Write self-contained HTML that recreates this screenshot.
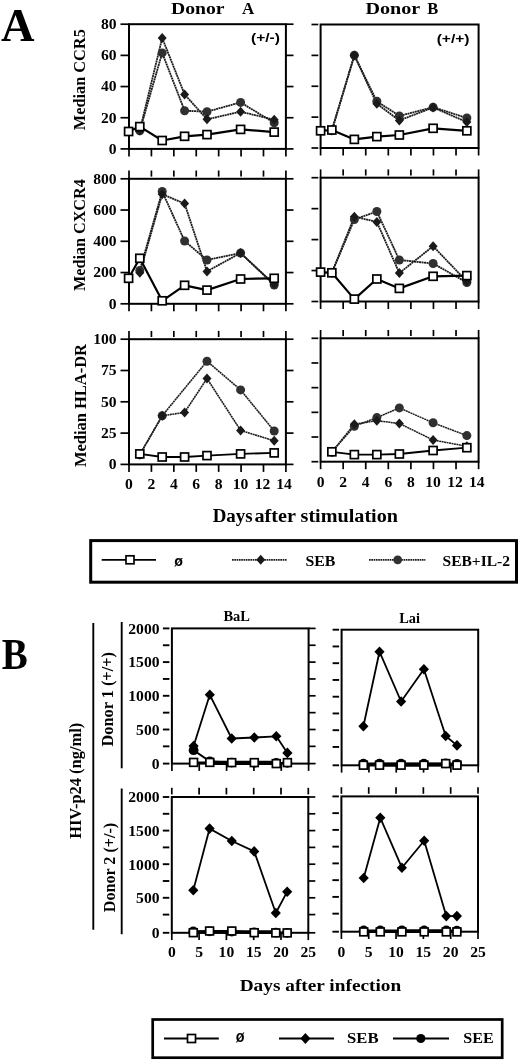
<!DOCTYPE html>
<html lang="en">
<head>
<meta charset="utf-8">
<title>Figure</title>
<style>
html,body{margin:0;padding:0;background:#fff;}
body{width:520px;height:1061px;overflow:hidden;}
svg{display:block;}
text{font-kerning:normal;}
</style>
</head>
<body>
<svg width="520" height="1061" viewBox="0 0 520 1061">
<rect x="0" y="0" width="520" height="1061" fill="#fff"/>
<text x="1.00" y="41.30" font-size="46" text-anchor="start" font-family='"Liberation Serif", serif' font-weight="bold" fill="#000" textLength="33.50" lengthAdjust="spacingAndGlyphs">A</text>
<text y="14.10" font-size="16.5" font-family='"Liberation Serif", serif' font-weight="bold" fill="#000"><tspan x="171.00" textLength="53.20" lengthAdjust="spacingAndGlyphs">Donor</tspan> <tspan x="242.00" textLength="12.30" lengthAdjust="spacingAndGlyphs">A</tspan></text>
<text y="14.20" font-size="16.5" font-family='"Liberation Serif", serif' font-weight="bold" fill="#000"><tspan x="365.40" textLength="54.40" lengthAdjust="spacingAndGlyphs">Donor</tspan> <tspan x="427.30" textLength="11.00" lengthAdjust="spacingAndGlyphs">B</tspan></text>
<rect x="129.0" y="24.2" width="156.90" height="124.70" fill="none" stroke="#000" stroke-width="2.0"/>
<line x1="120.50" y1="24.20" x2="129.00" y2="24.20" stroke="#000" stroke-width="1.7" />
<line x1="285.90" y1="24.20" x2="293.50" y2="24.20" stroke="#000" stroke-width="1.7" />
<text x="116.60" y="29.00" font-size="14.5" text-anchor="end" font-family='"Liberation Serif", serif' font-weight="bold" fill="#000" textLength="15.60" lengthAdjust="spacingAndGlyphs">80</text>
<line x1="120.50" y1="55.38" x2="129.00" y2="55.38" stroke="#000" stroke-width="1.7" />
<line x1="285.90" y1="55.38" x2="293.50" y2="55.38" stroke="#000" stroke-width="1.7" />
<text x="116.60" y="60.17" font-size="14.5" text-anchor="end" font-family='"Liberation Serif", serif' font-weight="bold" fill="#000" textLength="15.60" lengthAdjust="spacingAndGlyphs">60</text>
<line x1="120.50" y1="86.55" x2="129.00" y2="86.55" stroke="#000" stroke-width="1.7" />
<line x1="285.90" y1="86.55" x2="293.50" y2="86.55" stroke="#000" stroke-width="1.7" />
<text x="116.60" y="91.35" font-size="14.5" text-anchor="end" font-family='"Liberation Serif", serif' font-weight="bold" fill="#000" textLength="15.60" lengthAdjust="spacingAndGlyphs">40</text>
<line x1="120.50" y1="117.73" x2="129.00" y2="117.73" stroke="#000" stroke-width="1.7" />
<line x1="285.90" y1="117.73" x2="293.50" y2="117.73" stroke="#000" stroke-width="1.7" />
<text x="116.60" y="122.53" font-size="14.5" text-anchor="end" font-family='"Liberation Serif", serif' font-weight="bold" fill="#000" textLength="15.60" lengthAdjust="spacingAndGlyphs">20</text>
<line x1="120.50" y1="148.90" x2="129.00" y2="148.90" stroke="#000" stroke-width="1.7" />
<line x1="285.90" y1="148.90" x2="293.50" y2="148.90" stroke="#000" stroke-width="1.7" />
<text x="116.60" y="153.70" font-size="14.5" text-anchor="end" font-family='"Liberation Serif", serif' font-weight="bold" fill="#000" textLength="7.80" lengthAdjust="spacingAndGlyphs">0</text>
<line x1="129.00" y1="148.90" x2="129.00" y2="156.40" stroke="#000" stroke-width="1.7" />
<line x1="151.41" y1="148.90" x2="151.41" y2="156.40" stroke="#000" stroke-width="1.7" />
<line x1="173.83" y1="148.90" x2="173.83" y2="156.40" stroke="#000" stroke-width="1.7" />
<line x1="196.24" y1="148.90" x2="196.24" y2="156.40" stroke="#000" stroke-width="1.7" />
<line x1="218.66" y1="148.90" x2="218.66" y2="156.40" stroke="#000" stroke-width="1.7" />
<line x1="241.07" y1="148.90" x2="241.07" y2="156.40" stroke="#000" stroke-width="1.7" />
<line x1="263.49" y1="148.90" x2="263.49" y2="156.40" stroke="#000" stroke-width="1.7" />
<line x1="285.90" y1="148.90" x2="285.90" y2="156.40" stroke="#000" stroke-width="1.7" />
<rect x="320.6" y="24.5" width="158.00" height="123.50" fill="none" stroke="#000" stroke-width="2.0"/>
<line x1="311.50" y1="24.50" x2="318.30" y2="24.50" stroke="#000" stroke-width="1.7" />
<line x1="311.50" y1="55.38" x2="318.30" y2="55.38" stroke="#000" stroke-width="1.7" />
<line x1="311.50" y1="86.25" x2="318.30" y2="86.25" stroke="#000" stroke-width="1.7" />
<line x1="311.50" y1="117.12" x2="318.30" y2="117.12" stroke="#000" stroke-width="1.7" />
<line x1="311.50" y1="148.00" x2="318.30" y2="148.00" stroke="#000" stroke-width="1.7" />
<line x1="320.60" y1="148.00" x2="320.60" y2="155.50" stroke="#000" stroke-width="1.7" />
<line x1="343.17" y1="148.00" x2="343.17" y2="155.50" stroke="#000" stroke-width="1.7" />
<line x1="365.74" y1="148.00" x2="365.74" y2="155.50" stroke="#000" stroke-width="1.7" />
<line x1="388.31" y1="148.00" x2="388.31" y2="155.50" stroke="#000" stroke-width="1.7" />
<line x1="410.89" y1="148.00" x2="410.89" y2="155.50" stroke="#000" stroke-width="1.7" />
<line x1="433.46" y1="148.00" x2="433.46" y2="155.50" stroke="#000" stroke-width="1.7" />
<line x1="456.03" y1="148.00" x2="456.03" y2="155.50" stroke="#000" stroke-width="1.7" />
<line x1="478.60" y1="148.00" x2="478.60" y2="155.50" stroke="#000" stroke-width="1.7" />
<rect x="129.0" y="178.8" width="156.90" height="125.00" fill="none" stroke="#000" stroke-width="2.0"/>
<line x1="120.50" y1="178.80" x2="129.00" y2="178.80" stroke="#000" stroke-width="1.7" />
<line x1="285.90" y1="178.80" x2="293.50" y2="178.80" stroke="#000" stroke-width="1.7" />
<text x="116.60" y="183.60" font-size="14.5" text-anchor="end" font-family='"Liberation Serif", serif' font-weight="bold" fill="#000" textLength="23.40" lengthAdjust="spacingAndGlyphs">800</text>
<line x1="120.50" y1="210.05" x2="129.00" y2="210.05" stroke="#000" stroke-width="1.7" />
<line x1="285.90" y1="210.05" x2="293.50" y2="210.05" stroke="#000" stroke-width="1.7" />
<text x="116.60" y="214.85" font-size="14.5" text-anchor="end" font-family='"Liberation Serif", serif' font-weight="bold" fill="#000" textLength="23.40" lengthAdjust="spacingAndGlyphs">600</text>
<line x1="120.50" y1="241.30" x2="129.00" y2="241.30" stroke="#000" stroke-width="1.7" />
<line x1="285.90" y1="241.30" x2="293.50" y2="241.30" stroke="#000" stroke-width="1.7" />
<text x="116.60" y="246.10" font-size="14.5" text-anchor="end" font-family='"Liberation Serif", serif' font-weight="bold" fill="#000" textLength="23.40" lengthAdjust="spacingAndGlyphs">400</text>
<line x1="120.50" y1="272.55" x2="129.00" y2="272.55" stroke="#000" stroke-width="1.7" />
<line x1="285.90" y1="272.55" x2="293.50" y2="272.55" stroke="#000" stroke-width="1.7" />
<text x="116.60" y="277.35" font-size="14.5" text-anchor="end" font-family='"Liberation Serif", serif' font-weight="bold" fill="#000" textLength="23.40" lengthAdjust="spacingAndGlyphs">200</text>
<line x1="120.50" y1="303.80" x2="129.00" y2="303.80" stroke="#000" stroke-width="1.7" />
<line x1="285.90" y1="303.80" x2="293.50" y2="303.80" stroke="#000" stroke-width="1.7" />
<text x="116.60" y="308.60" font-size="14.5" text-anchor="end" font-family='"Liberation Serif", serif' font-weight="bold" fill="#000" textLength="7.80" lengthAdjust="spacingAndGlyphs">0</text>
<line x1="129.00" y1="303.80" x2="129.00" y2="311.30" stroke="#000" stroke-width="1.7" />
<line x1="151.41" y1="303.80" x2="151.41" y2="311.30" stroke="#000" stroke-width="1.7" />
<line x1="173.83" y1="303.80" x2="173.83" y2="311.30" stroke="#000" stroke-width="1.7" />
<line x1="196.24" y1="303.80" x2="196.24" y2="311.30" stroke="#000" stroke-width="1.7" />
<line x1="218.66" y1="303.80" x2="218.66" y2="311.30" stroke="#000" stroke-width="1.7" />
<line x1="241.07" y1="303.80" x2="241.07" y2="311.30" stroke="#000" stroke-width="1.7" />
<line x1="263.49" y1="303.80" x2="263.49" y2="311.30" stroke="#000" stroke-width="1.7" />
<line x1="285.90" y1="303.80" x2="285.90" y2="311.30" stroke="#000" stroke-width="1.7" />
<line x1="129.00" y1="170.50" x2="129.00" y2="178.80" stroke="#000" stroke-width="1.7" />
<line x1="151.41" y1="170.50" x2="151.41" y2="176.60" stroke="#000" stroke-width="1.7" />
<line x1="173.83" y1="170.50" x2="173.83" y2="176.60" stroke="#000" stroke-width="1.7" />
<line x1="196.24" y1="170.50" x2="196.24" y2="176.60" stroke="#000" stroke-width="1.7" />
<line x1="218.66" y1="170.50" x2="218.66" y2="176.60" stroke="#000" stroke-width="1.7" />
<line x1="241.07" y1="170.50" x2="241.07" y2="176.60" stroke="#000" stroke-width="1.7" />
<line x1="263.49" y1="170.50" x2="263.49" y2="176.60" stroke="#000" stroke-width="1.7" />
<line x1="285.90" y1="170.50" x2="285.90" y2="178.80" stroke="#000" stroke-width="1.7" />
<rect x="320.6" y="177.7" width="158.00" height="123.80" fill="none" stroke="#000" stroke-width="2.0"/>
<line x1="311.50" y1="177.70" x2="318.30" y2="177.70" stroke="#000" stroke-width="1.7" />
<line x1="311.50" y1="208.65" x2="318.30" y2="208.65" stroke="#000" stroke-width="1.7" />
<line x1="311.50" y1="239.60" x2="318.30" y2="239.60" stroke="#000" stroke-width="1.7" />
<line x1="311.50" y1="270.55" x2="318.30" y2="270.55" stroke="#000" stroke-width="1.7" />
<line x1="311.50" y1="301.50" x2="318.30" y2="301.50" stroke="#000" stroke-width="1.7" />
<line x1="320.60" y1="301.50" x2="320.60" y2="309.00" stroke="#000" stroke-width="1.7" />
<line x1="343.17" y1="301.50" x2="343.17" y2="309.00" stroke="#000" stroke-width="1.7" />
<line x1="365.74" y1="301.50" x2="365.74" y2="309.00" stroke="#000" stroke-width="1.7" />
<line x1="388.31" y1="301.50" x2="388.31" y2="309.00" stroke="#000" stroke-width="1.7" />
<line x1="410.89" y1="301.50" x2="410.89" y2="309.00" stroke="#000" stroke-width="1.7" />
<line x1="433.46" y1="301.50" x2="433.46" y2="309.00" stroke="#000" stroke-width="1.7" />
<line x1="456.03" y1="301.50" x2="456.03" y2="309.00" stroke="#000" stroke-width="1.7" />
<line x1="478.60" y1="301.50" x2="478.60" y2="309.00" stroke="#000" stroke-width="1.7" />
<line x1="320.60" y1="169.40" x2="320.60" y2="177.70" stroke="#000" stroke-width="1.7" />
<line x1="343.17" y1="169.40" x2="343.17" y2="175.50" stroke="#000" stroke-width="1.7" />
<line x1="365.74" y1="169.40" x2="365.74" y2="175.50" stroke="#000" stroke-width="1.7" />
<line x1="388.31" y1="169.40" x2="388.31" y2="175.50" stroke="#000" stroke-width="1.7" />
<line x1="410.89" y1="169.40" x2="410.89" y2="175.50" stroke="#000" stroke-width="1.7" />
<line x1="433.46" y1="169.40" x2="433.46" y2="175.50" stroke="#000" stroke-width="1.7" />
<line x1="456.03" y1="169.40" x2="456.03" y2="175.50" stroke="#000" stroke-width="1.7" />
<line x1="478.60" y1="169.40" x2="478.60" y2="177.70" stroke="#000" stroke-width="1.7" />
<rect x="129.0" y="339.2" width="156.90" height="125.20" fill="none" stroke="#000" stroke-width="2.0"/>
<line x1="120.50" y1="339.20" x2="129.00" y2="339.20" stroke="#000" stroke-width="1.7" />
<line x1="285.90" y1="339.20" x2="293.50" y2="339.20" stroke="#000" stroke-width="1.7" />
<text x="116.60" y="344.00" font-size="14.5" text-anchor="end" font-family='"Liberation Serif", serif' font-weight="bold" fill="#000" textLength="23.40" lengthAdjust="spacingAndGlyphs">100</text>
<line x1="120.50" y1="370.50" x2="129.00" y2="370.50" stroke="#000" stroke-width="1.7" />
<line x1="285.90" y1="370.50" x2="293.50" y2="370.50" stroke="#000" stroke-width="1.7" />
<text x="116.60" y="375.30" font-size="14.5" text-anchor="end" font-family='"Liberation Serif", serif' font-weight="bold" fill="#000" textLength="15.60" lengthAdjust="spacingAndGlyphs">75</text>
<line x1="120.50" y1="401.80" x2="129.00" y2="401.80" stroke="#000" stroke-width="1.7" />
<line x1="285.90" y1="401.80" x2="293.50" y2="401.80" stroke="#000" stroke-width="1.7" />
<text x="116.60" y="406.60" font-size="14.5" text-anchor="end" font-family='"Liberation Serif", serif' font-weight="bold" fill="#000" textLength="15.60" lengthAdjust="spacingAndGlyphs">50</text>
<line x1="120.50" y1="433.10" x2="129.00" y2="433.10" stroke="#000" stroke-width="1.7" />
<line x1="285.90" y1="433.10" x2="293.50" y2="433.10" stroke="#000" stroke-width="1.7" />
<text x="116.60" y="437.90" font-size="14.5" text-anchor="end" font-family='"Liberation Serif", serif' font-weight="bold" fill="#000" textLength="15.60" lengthAdjust="spacingAndGlyphs">25</text>
<line x1="120.50" y1="464.40" x2="129.00" y2="464.40" stroke="#000" stroke-width="1.7" />
<line x1="285.90" y1="464.40" x2="293.50" y2="464.40" stroke="#000" stroke-width="1.7" />
<text x="116.60" y="469.20" font-size="14.5" text-anchor="end" font-family='"Liberation Serif", serif' font-weight="bold" fill="#000" textLength="7.80" lengthAdjust="spacingAndGlyphs">0</text>
<line x1="129.00" y1="464.40" x2="129.00" y2="471.90" stroke="#000" stroke-width="1.7" />
<line x1="151.41" y1="464.40" x2="151.41" y2="471.90" stroke="#000" stroke-width="1.7" />
<line x1="173.83" y1="464.40" x2="173.83" y2="471.90" stroke="#000" stroke-width="1.7" />
<line x1="196.24" y1="464.40" x2="196.24" y2="471.90" stroke="#000" stroke-width="1.7" />
<line x1="218.66" y1="464.40" x2="218.66" y2="471.90" stroke="#000" stroke-width="1.7" />
<line x1="241.07" y1="464.40" x2="241.07" y2="471.90" stroke="#000" stroke-width="1.7" />
<line x1="263.49" y1="464.40" x2="263.49" y2="471.90" stroke="#000" stroke-width="1.7" />
<line x1="285.90" y1="464.40" x2="285.90" y2="471.90" stroke="#000" stroke-width="1.7" />
<line x1="129.00" y1="330.90" x2="129.00" y2="339.20" stroke="#000" stroke-width="1.7" />
<line x1="151.41" y1="330.90" x2="151.41" y2="337.00" stroke="#000" stroke-width="1.7" />
<line x1="173.83" y1="330.90" x2="173.83" y2="337.00" stroke="#000" stroke-width="1.7" />
<line x1="196.24" y1="330.90" x2="196.24" y2="337.00" stroke="#000" stroke-width="1.7" />
<line x1="218.66" y1="330.90" x2="218.66" y2="337.00" stroke="#000" stroke-width="1.7" />
<line x1="241.07" y1="330.90" x2="241.07" y2="337.00" stroke="#000" stroke-width="1.7" />
<line x1="263.49" y1="330.90" x2="263.49" y2="337.00" stroke="#000" stroke-width="1.7" />
<line x1="285.90" y1="330.90" x2="285.90" y2="339.20" stroke="#000" stroke-width="1.7" />
<rect x="320.6" y="338.3" width="158.00" height="123.40" fill="none" stroke="#000" stroke-width="2.0"/>
<line x1="311.50" y1="338.30" x2="318.30" y2="338.30" stroke="#000" stroke-width="1.7" />
<line x1="311.50" y1="362.98" x2="318.30" y2="362.98" stroke="#000" stroke-width="1.7" />
<line x1="311.50" y1="387.66" x2="318.30" y2="387.66" stroke="#000" stroke-width="1.7" />
<line x1="311.50" y1="412.34" x2="318.30" y2="412.34" stroke="#000" stroke-width="1.7" />
<line x1="311.50" y1="437.02" x2="318.30" y2="437.02" stroke="#000" stroke-width="1.7" />
<line x1="311.50" y1="461.70" x2="318.30" y2="461.70" stroke="#000" stroke-width="1.7" />
<line x1="320.60" y1="461.70" x2="320.60" y2="469.20" stroke="#000" stroke-width="1.7" />
<line x1="343.17" y1="461.70" x2="343.17" y2="469.20" stroke="#000" stroke-width="1.7" />
<line x1="365.74" y1="461.70" x2="365.74" y2="469.20" stroke="#000" stroke-width="1.7" />
<line x1="388.31" y1="461.70" x2="388.31" y2="469.20" stroke="#000" stroke-width="1.7" />
<line x1="410.89" y1="461.70" x2="410.89" y2="469.20" stroke="#000" stroke-width="1.7" />
<line x1="433.46" y1="461.70" x2="433.46" y2="469.20" stroke="#000" stroke-width="1.7" />
<line x1="456.03" y1="461.70" x2="456.03" y2="469.20" stroke="#000" stroke-width="1.7" />
<line x1="478.60" y1="461.70" x2="478.60" y2="469.20" stroke="#000" stroke-width="1.7" />
<line x1="320.60" y1="330.00" x2="320.60" y2="338.30" stroke="#000" stroke-width="1.7" />
<line x1="343.17" y1="330.00" x2="343.17" y2="336.10" stroke="#000" stroke-width="1.7" />
<line x1="365.74" y1="330.00" x2="365.74" y2="336.10" stroke="#000" stroke-width="1.7" />
<line x1="388.31" y1="330.00" x2="388.31" y2="336.10" stroke="#000" stroke-width="1.7" />
<line x1="410.89" y1="330.00" x2="410.89" y2="336.10" stroke="#000" stroke-width="1.7" />
<line x1="433.46" y1="330.00" x2="433.46" y2="336.10" stroke="#000" stroke-width="1.7" />
<line x1="456.03" y1="330.00" x2="456.03" y2="336.10" stroke="#000" stroke-width="1.7" />
<line x1="478.60" y1="330.00" x2="478.60" y2="338.30" stroke="#000" stroke-width="1.7" />
<text x="84.60" y="130.20" font-size="16.5" text-anchor="start" font-family='"Liberation Serif", serif' font-weight="bold" fill="#000" textLength="101.00" lengthAdjust="spacingAndGlyphs" transform="rotate(-90 84.60 130.20)">Median CCR5</text>
<text x="85.20" y="291.00" font-size="16.5" text-anchor="start" font-family='"Liberation Serif", serif' font-weight="bold" fill="#000" textLength="111.80" lengthAdjust="spacingAndGlyphs" transform="rotate(-90 85.20 291.00)">Median CXCR4</text>
<text x="86.00" y="467.00" font-size="16.5" text-anchor="start" font-family='"Liberation Serif", serif' font-weight="bold" fill="#000" textLength="123.00" lengthAdjust="spacingAndGlyphs" transform="rotate(-90 86.00 467.00)">Median HLA-DR</text>
<text x="129.00" y="489.20" font-size="14.5" text-anchor="middle" font-family='"Liberation Serif", serif' font-weight="bold" fill="#000" textLength="7.80" lengthAdjust="spacingAndGlyphs">0</text>
<text x="151.41" y="489.20" font-size="14.5" text-anchor="middle" font-family='"Liberation Serif", serif' font-weight="bold" fill="#000" textLength="7.80" lengthAdjust="spacingAndGlyphs">2</text>
<text x="173.83" y="489.20" font-size="14.5" text-anchor="middle" font-family='"Liberation Serif", serif' font-weight="bold" fill="#000" textLength="7.80" lengthAdjust="spacingAndGlyphs">4</text>
<text x="196.24" y="489.20" font-size="14.5" text-anchor="middle" font-family='"Liberation Serif", serif' font-weight="bold" fill="#000" textLength="7.80" lengthAdjust="spacingAndGlyphs">6</text>
<text x="218.66" y="489.20" font-size="14.5" text-anchor="middle" font-family='"Liberation Serif", serif' font-weight="bold" fill="#000" textLength="7.80" lengthAdjust="spacingAndGlyphs">8</text>
<text x="240.57" y="489.20" font-size="14.5" text-anchor="middle" font-family='"Liberation Serif", serif' font-weight="bold" fill="#000" textLength="15.60" lengthAdjust="spacingAndGlyphs">10</text>
<text x="262.49" y="489.20" font-size="14.5" text-anchor="middle" font-family='"Liberation Serif", serif' font-weight="bold" fill="#000" textLength="15.60" lengthAdjust="spacingAndGlyphs">12</text>
<text x="284.10" y="489.20" font-size="14.5" text-anchor="middle" font-family='"Liberation Serif", serif' font-weight="bold" fill="#000" textLength="15.60" lengthAdjust="spacingAndGlyphs">14</text>
<text x="320.60" y="487.20" font-size="14.5" text-anchor="middle" font-family='"Liberation Serif", serif' font-weight="bold" fill="#000" textLength="7.80" lengthAdjust="spacingAndGlyphs">0</text>
<text x="343.17" y="487.20" font-size="14.5" text-anchor="middle" font-family='"Liberation Serif", serif' font-weight="bold" fill="#000" textLength="7.80" lengthAdjust="spacingAndGlyphs">2</text>
<text x="365.74" y="487.20" font-size="14.5" text-anchor="middle" font-family='"Liberation Serif", serif' font-weight="bold" fill="#000" textLength="7.80" lengthAdjust="spacingAndGlyphs">4</text>
<text x="388.31" y="487.20" font-size="14.5" text-anchor="middle" font-family='"Liberation Serif", serif' font-weight="bold" fill="#000" textLength="7.80" lengthAdjust="spacingAndGlyphs">6</text>
<text x="410.89" y="487.20" font-size="14.5" text-anchor="middle" font-family='"Liberation Serif", serif' font-weight="bold" fill="#000" textLength="7.80" lengthAdjust="spacingAndGlyphs">8</text>
<text x="432.96" y="487.20" font-size="14.5" text-anchor="middle" font-family='"Liberation Serif", serif' font-weight="bold" fill="#000" textLength="15.60" lengthAdjust="spacingAndGlyphs">10</text>
<text x="455.03" y="487.20" font-size="14.5" text-anchor="middle" font-family='"Liberation Serif", serif' font-weight="bold" fill="#000" textLength="15.60" lengthAdjust="spacingAndGlyphs">12</text>
<text x="476.80" y="487.20" font-size="14.5" text-anchor="middle" font-family='"Liberation Serif", serif' font-weight="bold" fill="#000" textLength="15.60" lengthAdjust="spacingAndGlyphs">14</text>
<text y="522.20" font-size="18" font-family='"Liberation Serif", serif' font-weight="bold" fill="#000"><tspan x="212.70" textLength="40.00" lengthAdjust="spacingAndGlyphs">Days</tspan> <tspan x="254.50" textLength="143.50" lengthAdjust="spacingAndGlyphs">after stimulation</tspan></text>
<polyline points="139.80,130.80 162.20,52.90 184.60,110.70 207.00,111.70 240.60,102.40 274.20,122.80" fill="none" stroke="#1c1c1c" stroke-width="1.8" stroke-linejoin="round" stroke-dasharray="2 0.5"/>
<polyline points="139.80,130.50 162.20,38.00 184.60,94.40 207.00,119.30 240.60,111.70 274.20,119.70" fill="none" stroke="#1c1c1c" stroke-width="1.8" stroke-linejoin="round" stroke-dasharray="2 0.5"/>
<polyline points="128.60,131.50 139.80,126.60 162.20,140.50 184.60,136.30 207.00,134.60 240.60,129.40 274.20,132.10" fill="none" stroke="#000" stroke-width="2.2" stroke-linejoin="round" />
<circle cx="139.80" cy="130.80" r="4.5" fill="#303030"/>
<circle cx="162.20" cy="52.90" r="4.5" fill="#303030"/>
<circle cx="184.60" cy="110.70" r="4.5" fill="#303030"/>
<circle cx="207.00" cy="111.70" r="4.5" fill="#303030"/>
<circle cx="240.60" cy="102.40" r="4.5" fill="#303030"/>
<circle cx="274.20" cy="122.80" r="4.5" fill="#303030"/>
<polygon points="139.80,125.50 144.30,130.50 139.80,135.50 135.30,130.50" fill="#1a1a1a"/>
<polygon points="162.20,33.00 166.70,38.00 162.20,43.00 157.70,38.00" fill="#1a1a1a"/>
<polygon points="184.60,89.40 189.10,94.40 184.60,99.40 180.10,94.40" fill="#1a1a1a"/>
<polygon points="207.00,114.30 211.50,119.30 207.00,124.30 202.50,119.30" fill="#1a1a1a"/>
<polygon points="240.60,106.70 245.10,111.70 240.60,116.70 236.10,111.70" fill="#1a1a1a"/>
<polygon points="274.20,114.70 278.70,119.70 274.20,124.70 269.70,119.70" fill="#1a1a1a"/>
<rect x="124.60" y="127.50" width="8.0" height="8.0" fill="#fff" stroke="#000" stroke-width="1.7"/>
<rect x="135.80" y="122.60" width="8.0" height="8.0" fill="#fff" stroke="#000" stroke-width="1.7"/>
<rect x="158.20" y="136.50" width="8.0" height="8.0" fill="#fff" stroke="#000" stroke-width="1.7"/>
<rect x="180.60" y="132.30" width="8.0" height="8.0" fill="#fff" stroke="#000" stroke-width="1.7"/>
<rect x="203.00" y="130.60" width="8.0" height="8.0" fill="#fff" stroke="#000" stroke-width="1.7"/>
<rect x="236.60" y="125.40" width="8.0" height="8.0" fill="#fff" stroke="#000" stroke-width="1.7"/>
<rect x="270.20" y="128.10" width="8.0" height="8.0" fill="#fff" stroke="#000" stroke-width="1.7"/>
<polyline points="331.85,130.50 354.35,55.30 376.85,101.30 399.35,115.90 433.10,107.20 466.85,118.00" fill="none" stroke="#1c1c1c" stroke-width="1.8" stroke-linejoin="round" stroke-dasharray="2 0.5"/>
<polyline points="331.85,130.50 354.35,55.50 376.85,103.80 399.35,120.40 433.10,107.50 466.85,122.10" fill="none" stroke="#1c1c1c" stroke-width="1.8" stroke-linejoin="round" stroke-dasharray="2 0.5"/>
<polyline points="320.60,130.80 331.85,130.00 354.35,139.40 376.85,136.60 399.35,135.00 433.10,128.30 466.85,130.80" fill="none" stroke="#000" stroke-width="2.2" stroke-linejoin="round" />
<circle cx="331.85" cy="130.50" r="4.5" fill="#303030"/>
<circle cx="354.35" cy="55.30" r="4.5" fill="#303030"/>
<circle cx="376.85" cy="101.30" r="4.5" fill="#303030"/>
<circle cx="399.35" cy="115.90" r="4.5" fill="#303030"/>
<circle cx="433.10" cy="107.20" r="4.5" fill="#303030"/>
<circle cx="466.85" cy="118.00" r="4.5" fill="#303030"/>
<polygon points="331.85,125.50 336.35,130.50 331.85,135.50 327.35,130.50" fill="#1a1a1a"/>
<polygon points="354.35,50.50 358.85,55.50 354.35,60.50 349.85,55.50" fill="#1a1a1a"/>
<polygon points="376.85,98.80 381.35,103.80 376.85,108.80 372.35,103.80" fill="#1a1a1a"/>
<polygon points="399.35,115.40 403.85,120.40 399.35,125.40 394.85,120.40" fill="#1a1a1a"/>
<polygon points="433.10,102.50 437.60,107.50 433.10,112.50 428.60,107.50" fill="#1a1a1a"/>
<polygon points="466.85,117.10 471.35,122.10 466.85,127.10 462.35,122.10" fill="#1a1a1a"/>
<rect x="316.60" y="126.80" width="8.0" height="8.0" fill="#fff" stroke="#000" stroke-width="1.7"/>
<rect x="327.85" y="126.00" width="8.0" height="8.0" fill="#fff" stroke="#000" stroke-width="1.7"/>
<rect x="350.35" y="135.40" width="8.0" height="8.0" fill="#fff" stroke="#000" stroke-width="1.7"/>
<rect x="372.85" y="132.60" width="8.0" height="8.0" fill="#fff" stroke="#000" stroke-width="1.7"/>
<rect x="395.35" y="131.00" width="8.0" height="8.0" fill="#fff" stroke="#000" stroke-width="1.7"/>
<rect x="429.10" y="124.30" width="8.0" height="8.0" fill="#fff" stroke="#000" stroke-width="1.7"/>
<rect x="462.85" y="126.80" width="8.0" height="8.0" fill="#fff" stroke="#000" stroke-width="1.7"/>
<polyline points="139.80,270.40 162.20,191.50 184.60,241.00 207.00,260.00 240.60,253.00 274.20,285.00" fill="none" stroke="#1c1c1c" stroke-width="1.8" stroke-linejoin="round" stroke-dasharray="2 0.5"/>
<polyline points="139.80,272.80 162.20,194.20 184.60,203.60 207.00,271.40 240.60,253.00 274.20,284.20" fill="none" stroke="#1c1c1c" stroke-width="1.8" stroke-linejoin="round" stroke-dasharray="2 0.5"/>
<polyline points="128.60,278.30 139.80,258.30 162.20,300.80 184.60,285.30 207.00,290.10 240.60,279.00 274.20,278.30" fill="none" stroke="#000" stroke-width="2.2" stroke-linejoin="round" />
<circle cx="139.80" cy="270.40" r="4.5" fill="#303030"/>
<circle cx="162.20" cy="191.50" r="4.5" fill="#303030"/>
<circle cx="184.60" cy="241.00" r="4.5" fill="#303030"/>
<circle cx="207.00" cy="260.00" r="4.5" fill="#303030"/>
<circle cx="240.60" cy="253.00" r="4.5" fill="#303030"/>
<circle cx="274.20" cy="285.00" r="4.5" fill="#303030"/>
<polygon points="139.80,267.80 144.30,272.80 139.80,277.80 135.30,272.80" fill="#1a1a1a"/>
<polygon points="162.20,189.20 166.70,194.20 162.20,199.20 157.70,194.20" fill="#1a1a1a"/>
<polygon points="184.60,198.60 189.10,203.60 184.60,208.60 180.10,203.60" fill="#1a1a1a"/>
<polygon points="207.00,266.40 211.50,271.40 207.00,276.40 202.50,271.40" fill="#1a1a1a"/>
<polygon points="240.60,248.00 245.10,253.00 240.60,258.00 236.10,253.00" fill="#1a1a1a"/>
<polygon points="274.20,279.20 278.70,284.20 274.20,289.20 269.70,284.20" fill="#1a1a1a"/>
<rect x="124.60" y="274.30" width="8.0" height="8.0" fill="#fff" stroke="#000" stroke-width="1.7"/>
<rect x="135.80" y="254.30" width="8.0" height="8.0" fill="#fff" stroke="#000" stroke-width="1.7"/>
<rect x="158.20" y="296.80" width="8.0" height="8.0" fill="#fff" stroke="#000" stroke-width="1.7"/>
<rect x="180.60" y="281.30" width="8.0" height="8.0" fill="#fff" stroke="#000" stroke-width="1.7"/>
<rect x="203.00" y="286.10" width="8.0" height="8.0" fill="#fff" stroke="#000" stroke-width="1.7"/>
<rect x="236.60" y="275.00" width="8.0" height="8.0" fill="#fff" stroke="#000" stroke-width="1.7"/>
<rect x="270.20" y="274.30" width="8.0" height="8.0" fill="#fff" stroke="#000" stroke-width="1.7"/>
<polyline points="331.85,272.80 354.35,219.50 376.85,211.50 399.35,260.00 433.10,263.50 466.85,282.50" fill="none" stroke="#1c1c1c" stroke-width="1.8" stroke-linejoin="round" stroke-dasharray="2 0.5"/>
<polyline points="331.85,272.80 354.35,216.70 376.85,221.90 399.35,273.10 433.10,246.20 466.85,281.50" fill="none" stroke="#1c1c1c" stroke-width="1.8" stroke-linejoin="round" stroke-dasharray="2 0.5"/>
<polyline points="320.60,272.10 331.85,272.80 354.35,299.10 376.85,279.00 399.35,288.40 433.10,276.30 466.85,275.60" fill="none" stroke="#000" stroke-width="2.2" stroke-linejoin="round" />
<circle cx="331.85" cy="272.80" r="4.5" fill="#303030"/>
<circle cx="354.35" cy="219.50" r="4.5" fill="#303030"/>
<circle cx="376.85" cy="211.50" r="4.5" fill="#303030"/>
<circle cx="399.35" cy="260.00" r="4.5" fill="#303030"/>
<circle cx="433.10" cy="263.50" r="4.5" fill="#303030"/>
<circle cx="466.85" cy="282.50" r="4.5" fill="#303030"/>
<polygon points="331.85,267.80 336.35,272.80 331.85,277.80 327.35,272.80" fill="#1a1a1a"/>
<polygon points="354.35,211.70 358.85,216.70 354.35,221.70 349.85,216.70" fill="#1a1a1a"/>
<polygon points="376.85,216.90 381.35,221.90 376.85,226.90 372.35,221.90" fill="#1a1a1a"/>
<polygon points="399.35,268.10 403.85,273.10 399.35,278.10 394.85,273.10" fill="#1a1a1a"/>
<polygon points="433.10,241.20 437.60,246.20 433.10,251.20 428.60,246.20" fill="#1a1a1a"/>
<polygon points="466.85,276.50 471.35,281.50 466.85,286.50 462.35,281.50" fill="#1a1a1a"/>
<rect x="316.60" y="268.10" width="8.0" height="8.0" fill="#fff" stroke="#000" stroke-width="1.7"/>
<rect x="327.85" y="268.80" width="8.0" height="8.0" fill="#fff" stroke="#000" stroke-width="1.7"/>
<rect x="350.35" y="295.10" width="8.0" height="8.0" fill="#fff" stroke="#000" stroke-width="1.7"/>
<rect x="372.85" y="275.00" width="8.0" height="8.0" fill="#fff" stroke="#000" stroke-width="1.7"/>
<rect x="395.35" y="284.40" width="8.0" height="8.0" fill="#fff" stroke="#000" stroke-width="1.7"/>
<rect x="429.10" y="272.30" width="8.0" height="8.0" fill="#fff" stroke="#000" stroke-width="1.7"/>
<rect x="462.85" y="271.60" width="8.0" height="8.0" fill="#fff" stroke="#000" stroke-width="1.7"/>
<polyline points="139.80,454.80 162.20,415.80 207.00,361.20 240.60,389.90 274.20,431.00" fill="none" stroke="#1c1c1c" stroke-width="1.6" stroke-linejoin="round" stroke-dasharray="2 0.5"/>
<polyline points="139.80,454.50 162.20,415.80 184.60,412.40 207.00,378.50 240.60,430.40 274.20,440.80" fill="none" stroke="#1c1c1c" stroke-width="1.6" stroke-linejoin="round" stroke-dasharray="2 0.5"/>
<polyline points="139.80,453.90 162.20,457.00 184.60,457.00 207.00,455.60 240.60,453.90 274.20,452.90" fill="none" stroke="#000" stroke-width="1.8" stroke-linejoin="round" />
<circle cx="139.80" cy="454.80" r="4.5" fill="#303030"/>
<circle cx="162.20" cy="415.80" r="4.5" fill="#303030"/>
<circle cx="207.00" cy="361.20" r="4.5" fill="#303030"/>
<circle cx="240.60" cy="389.90" r="4.5" fill="#303030"/>
<circle cx="274.20" cy="431.00" r="4.5" fill="#303030"/>
<polygon points="139.80,449.50 144.30,454.50 139.80,459.50 135.30,454.50" fill="#1a1a1a"/>
<polygon points="162.20,410.80 166.70,415.80 162.20,420.80 157.70,415.80" fill="#1a1a1a"/>
<polygon points="184.60,407.40 189.10,412.40 184.60,417.40 180.10,412.40" fill="#1a1a1a"/>
<polygon points="207.00,373.50 211.50,378.50 207.00,383.50 202.50,378.50" fill="#1a1a1a"/>
<polygon points="240.60,425.40 245.10,430.40 240.60,435.40 236.10,430.40" fill="#1a1a1a"/>
<polygon points="274.20,435.80 278.70,440.80 274.20,445.80 269.70,440.80" fill="#1a1a1a"/>
<rect x="135.80" y="449.90" width="8.0" height="8.0" fill="#fff" stroke="#000" stroke-width="1.7"/>
<rect x="158.20" y="453.00" width="8.0" height="8.0" fill="#fff" stroke="#000" stroke-width="1.7"/>
<rect x="180.60" y="453.00" width="8.0" height="8.0" fill="#fff" stroke="#000" stroke-width="1.7"/>
<rect x="203.00" y="451.60" width="8.0" height="8.0" fill="#fff" stroke="#000" stroke-width="1.7"/>
<rect x="236.60" y="449.90" width="8.0" height="8.0" fill="#fff" stroke="#000" stroke-width="1.7"/>
<rect x="270.20" y="448.90" width="8.0" height="8.0" fill="#fff" stroke="#000" stroke-width="1.7"/>
<polyline points="331.85,452.00 354.35,426.20 376.85,417.60 399.35,407.90 433.10,422.80 466.85,435.60" fill="none" stroke="#1c1c1c" stroke-width="1.5" stroke-linejoin="round" stroke-dasharray="2 0.5"/>
<polyline points="331.85,452.00 354.35,424.20 376.85,420.70 399.35,423.50 433.10,440.00 466.85,446.30" fill="none" stroke="#1c1c1c" stroke-width="1.5" stroke-linejoin="round" stroke-dasharray="2 0.5"/>
<polyline points="331.85,451.80 354.35,454.60 376.85,454.60 399.35,454.00 433.10,450.50 466.85,447.70" fill="none" stroke="#000" stroke-width="1.8" stroke-linejoin="round" />
<circle cx="331.85" cy="452.00" r="4.5" fill="#303030"/>
<circle cx="354.35" cy="426.20" r="4.5" fill="#303030"/>
<circle cx="376.85" cy="417.60" r="4.5" fill="#303030"/>
<circle cx="399.35" cy="407.90" r="4.5" fill="#303030"/>
<circle cx="433.10" cy="422.80" r="4.5" fill="#303030"/>
<circle cx="466.85" cy="435.60" r="4.5" fill="#303030"/>
<polygon points="331.85,447.00 336.35,452.00 331.85,457.00 327.35,452.00" fill="#1a1a1a"/>
<polygon points="354.35,419.20 358.85,424.20 354.35,429.20 349.85,424.20" fill="#1a1a1a"/>
<polygon points="376.85,415.70 381.35,420.70 376.85,425.70 372.35,420.70" fill="#1a1a1a"/>
<polygon points="399.35,418.50 403.85,423.50 399.35,428.50 394.85,423.50" fill="#1a1a1a"/>
<polygon points="433.10,435.00 437.60,440.00 433.10,445.00 428.60,440.00" fill="#1a1a1a"/>
<polygon points="466.85,441.30 471.35,446.30 466.85,451.30 462.35,446.30" fill="#1a1a1a"/>
<rect x="327.85" y="447.80" width="8.0" height="8.0" fill="#fff" stroke="#000" stroke-width="1.7"/>
<rect x="350.35" y="450.60" width="8.0" height="8.0" fill="#fff" stroke="#000" stroke-width="1.7"/>
<rect x="372.85" y="450.60" width="8.0" height="8.0" fill="#fff" stroke="#000" stroke-width="1.7"/>
<rect x="395.35" y="450.00" width="8.0" height="8.0" fill="#fff" stroke="#000" stroke-width="1.7"/>
<rect x="429.10" y="446.50" width="8.0" height="8.0" fill="#fff" stroke="#000" stroke-width="1.7"/>
<rect x="462.85" y="443.70" width="8.0" height="8.0" fill="#fff" stroke="#000" stroke-width="1.7"/>
<text x="251.00" y="42.00" font-size="12.5" text-anchor="start" font-family='"Liberation Sans", sans-serif' font-weight="bold" fill="#000" textLength="29.00" lengthAdjust="spacingAndGlyphs">(+/-)</text>
<text x="436.70" y="43.20" font-size="13" text-anchor="start" font-family='"Liberation Sans", sans-serif' font-weight="bold" fill="#000" textLength="32.80" lengthAdjust="spacingAndGlyphs">(+/+)</text>
<rect x="90.7" y="540.6" width="425.8" height="41.6" fill="none" stroke="#000" stroke-width="3"/>
<line x1="101.70" y1="559.90" x2="156.00" y2="559.90" stroke="#000" stroke-width="1.7" />
<rect x="126.00" y="555.80" width="8.0" height="8.0" fill="#fff" stroke="#000" stroke-width="1.7"/>
<text x="174.30" y="566.40" font-size="15" text-anchor="start" font-family='"Liberation Sans", sans-serif' font-weight="bold" fill="#000" textLength="8.70" lengthAdjust="spacingAndGlyphs">ø</text>
<line x1="232.00" y1="559.80" x2="287.00" y2="559.80" stroke="#1c1c1c" stroke-width="1.7" stroke-dasharray="1.7 0.6"/>
<polygon points="260.70,554.80 265.20,559.80 260.70,564.80 256.20,559.80" fill="#1a1a1a"/>
<text x="305.40" y="565.80" font-size="15" text-anchor="start" font-family='"Liberation Serif", serif' font-weight="bold" fill="#000" textLength="30.00" lengthAdjust="spacingAndGlyphs">SEB</text>
<line x1="369.00" y1="559.80" x2="425.40" y2="559.80" stroke="#1c1c1c" stroke-width="1.7" stroke-dasharray="1.7 0.6"/>
<circle cx="397.70" cy="559.80" r="4.4" fill="#303030"/>
<text x="442.50" y="565.80" font-size="15" text-anchor="start" font-family='"Liberation Serif", serif' font-weight="bold" fill="#000" textLength="67.50" lengthAdjust="spacingAndGlyphs">SEB+IL-2</text>
<text x="1.70" y="669.00" font-size="45" text-anchor="start" font-family='"Liberation Serif", serif' font-weight="bold" fill="#000" textLength="26.00" lengthAdjust="spacingAndGlyphs">B</text>
<line x1="93.30" y1="623.00" x2="93.30" y2="929.80" stroke="#000" stroke-width="1.9" />
<line x1="121.70" y1="622.00" x2="121.70" y2="768.30" stroke="#000" stroke-width="1.9" />
<line x1="121.70" y1="788.50" x2="121.70" y2="934.20" stroke="#000" stroke-width="1.9" />
<text x="81.30" y="838.80" font-size="16.5" text-anchor="start" font-family='"Liberation Serif", serif' font-weight="bold" fill="#000" textLength="116.00" lengthAdjust="spacingAndGlyphs" transform="rotate(-90 81.30 838.80)">HIV-p24 (ng/ml)</text>
<text x="112.90" y="746.50" font-size="16" text-anchor="start" font-family='"Liberation Serif", serif' font-weight="bold" fill="#000" textLength="94.40" lengthAdjust="spacingAndGlyphs" transform="rotate(-90 112.90 746.50)">Donor 1 (+/+)</text>
<text x="114.70" y="912.20" font-size="16" text-anchor="start" font-family='"Liberation Serif", serif' font-weight="bold" fill="#000" textLength="89.40" lengthAdjust="spacingAndGlyphs" transform="rotate(-90 114.70 912.20)">Donor 2 (+/-)</text>
<text x="223.40" y="620.80" font-size="15" text-anchor="start" font-family='"Liberation Serif", serif' font-weight="bold" fill="#000" textLength="26.60" lengthAdjust="spacingAndGlyphs">BaL</text>
<text x="399.20" y="623.00" font-size="15" text-anchor="start" font-family='"Liberation Serif", serif' font-weight="bold" fill="#000" textLength="20.80" lengthAdjust="spacingAndGlyphs">Lai</text>
<rect x="171.9" y="628.4" width="136.70" height="135.20" fill="none" stroke="#000" stroke-width="2.0"/>
<line x1="162.90" y1="628.40" x2="169.40" y2="628.40" stroke="#000" stroke-width="1.9" />
<line x1="308.60" y1="628.40" x2="315.60" y2="628.40" stroke="#000" stroke-width="1.7" />
<text x="159.50" y="633.70" font-size="14.5" text-anchor="end" font-family='"Liberation Serif", serif' font-weight="bold" fill="#000" textLength="31.20" lengthAdjust="spacingAndGlyphs">2000</text>
<line x1="162.90" y1="645.25" x2="169.40" y2="645.25" stroke="#000" stroke-width="1.9" />
<line x1="308.60" y1="645.25" x2="315.60" y2="645.25" stroke="#000" stroke-width="1.7" />
<line x1="162.90" y1="662.10" x2="169.40" y2="662.10" stroke="#000" stroke-width="1.9" />
<line x1="308.60" y1="662.10" x2="315.60" y2="662.10" stroke="#000" stroke-width="1.7" />
<text x="159.50" y="667.40" font-size="14.5" text-anchor="end" font-family='"Liberation Serif", serif' font-weight="bold" fill="#000" textLength="31.20" lengthAdjust="spacingAndGlyphs">1500</text>
<line x1="162.90" y1="678.95" x2="169.40" y2="678.95" stroke="#000" stroke-width="1.9" />
<line x1="308.60" y1="678.95" x2="315.60" y2="678.95" stroke="#000" stroke-width="1.7" />
<line x1="162.90" y1="695.80" x2="169.40" y2="695.80" stroke="#000" stroke-width="1.9" />
<line x1="308.60" y1="695.80" x2="315.60" y2="695.80" stroke="#000" stroke-width="1.7" />
<text x="159.50" y="701.10" font-size="14.5" text-anchor="end" font-family='"Liberation Serif", serif' font-weight="bold" fill="#000" textLength="31.20" lengthAdjust="spacingAndGlyphs">1000</text>
<line x1="162.90" y1="712.65" x2="169.40" y2="712.65" stroke="#000" stroke-width="1.9" />
<line x1="308.60" y1="712.65" x2="315.60" y2="712.65" stroke="#000" stroke-width="1.7" />
<line x1="162.90" y1="729.50" x2="169.40" y2="729.50" stroke="#000" stroke-width="1.9" />
<line x1="308.60" y1="729.50" x2="315.60" y2="729.50" stroke="#000" stroke-width="1.7" />
<text x="159.50" y="734.80" font-size="14.5" text-anchor="end" font-family='"Liberation Serif", serif' font-weight="bold" fill="#000" textLength="23.40" lengthAdjust="spacingAndGlyphs">500</text>
<line x1="162.90" y1="746.35" x2="169.40" y2="746.35" stroke="#000" stroke-width="1.9" />
<line x1="308.60" y1="746.35" x2="315.60" y2="746.35" stroke="#000" stroke-width="1.7" />
<line x1="162.90" y1="763.60" x2="169.40" y2="763.60" stroke="#000" stroke-width="1.9" />
<line x1="308.60" y1="763.60" x2="315.60" y2="763.60" stroke="#000" stroke-width="1.7" />
<text x="159.50" y="768.90" font-size="14.5" text-anchor="end" font-family='"Liberation Serif", serif' font-weight="bold" fill="#000" textLength="7.80" lengthAdjust="spacingAndGlyphs">0</text>
<line x1="171.90" y1="763.60" x2="171.90" y2="770.90" stroke="#000" stroke-width="1.7" />
<line x1="199.24" y1="763.60" x2="199.24" y2="770.90" stroke="#000" stroke-width="1.7" />
<line x1="226.58" y1="763.60" x2="226.58" y2="770.90" stroke="#000" stroke-width="1.7" />
<line x1="253.92" y1="763.60" x2="253.92" y2="770.90" stroke="#000" stroke-width="1.7" />
<line x1="281.26" y1="763.60" x2="281.26" y2="770.90" stroke="#000" stroke-width="1.7" />
<line x1="308.60" y1="763.60" x2="308.60" y2="770.90" stroke="#000" stroke-width="1.7" />
<rect x="341.6" y="629.7" width="136.60" height="135.60" fill="none" stroke="#000" stroke-width="2.0"/>
<line x1="332.60" y1="629.70" x2="339.10" y2="629.70" stroke="#000" stroke-width="1.9" />
<line x1="332.60" y1="646.45" x2="339.10" y2="646.45" stroke="#000" stroke-width="1.9" />
<line x1="332.60" y1="663.20" x2="339.10" y2="663.20" stroke="#000" stroke-width="1.9" />
<line x1="332.60" y1="679.95" x2="339.10" y2="679.95" stroke="#000" stroke-width="1.9" />
<line x1="332.60" y1="696.70" x2="339.10" y2="696.70" stroke="#000" stroke-width="1.9" />
<line x1="332.60" y1="713.45" x2="339.10" y2="713.45" stroke="#000" stroke-width="1.9" />
<line x1="332.60" y1="730.20" x2="339.10" y2="730.20" stroke="#000" stroke-width="1.9" />
<line x1="332.60" y1="746.95" x2="339.10" y2="746.95" stroke="#000" stroke-width="1.9" />
<line x1="332.60" y1="765.30" x2="339.10" y2="765.30" stroke="#000" stroke-width="1.9" />
<line x1="341.60" y1="765.30" x2="341.60" y2="772.60" stroke="#000" stroke-width="1.7" />
<line x1="368.92" y1="765.30" x2="368.92" y2="772.60" stroke="#000" stroke-width="1.7" />
<line x1="396.24" y1="765.30" x2="396.24" y2="772.60" stroke="#000" stroke-width="1.7" />
<line x1="423.56" y1="765.30" x2="423.56" y2="772.60" stroke="#000" stroke-width="1.7" />
<line x1="450.88" y1="765.30" x2="450.88" y2="772.60" stroke="#000" stroke-width="1.7" />
<line x1="478.20" y1="765.30" x2="478.20" y2="772.60" stroke="#000" stroke-width="1.7" />
<rect x="171.8" y="797.0" width="136.50" height="135.80" fill="none" stroke="#000" stroke-width="2.0"/>
<line x1="162.80" y1="797.00" x2="169.30" y2="797.00" stroke="#000" stroke-width="1.9" />
<line x1="308.30" y1="797.00" x2="315.30" y2="797.00" stroke="#000" stroke-width="1.7" />
<text x="159.50" y="802.30" font-size="14.5" text-anchor="end" font-family='"Liberation Serif", serif' font-weight="bold" fill="#000" textLength="31.20" lengthAdjust="spacingAndGlyphs">2000</text>
<line x1="162.80" y1="813.80" x2="169.30" y2="813.80" stroke="#000" stroke-width="1.9" />
<line x1="308.30" y1="813.80" x2="315.30" y2="813.80" stroke="#000" stroke-width="1.7" />
<line x1="162.80" y1="830.60" x2="169.30" y2="830.60" stroke="#000" stroke-width="1.9" />
<line x1="308.30" y1="830.60" x2="315.30" y2="830.60" stroke="#000" stroke-width="1.7" />
<text x="159.50" y="835.90" font-size="14.5" text-anchor="end" font-family='"Liberation Serif", serif' font-weight="bold" fill="#000" textLength="31.20" lengthAdjust="spacingAndGlyphs">1500</text>
<line x1="162.80" y1="847.40" x2="169.30" y2="847.40" stroke="#000" stroke-width="1.9" />
<line x1="308.30" y1="847.40" x2="315.30" y2="847.40" stroke="#000" stroke-width="1.7" />
<line x1="162.80" y1="864.20" x2="169.30" y2="864.20" stroke="#000" stroke-width="1.9" />
<line x1="308.30" y1="864.20" x2="315.30" y2="864.20" stroke="#000" stroke-width="1.7" />
<text x="159.50" y="869.50" font-size="14.5" text-anchor="end" font-family='"Liberation Serif", serif' font-weight="bold" fill="#000" textLength="31.20" lengthAdjust="spacingAndGlyphs">1000</text>
<line x1="162.80" y1="881.00" x2="169.30" y2="881.00" stroke="#000" stroke-width="1.9" />
<line x1="308.30" y1="881.00" x2="315.30" y2="881.00" stroke="#000" stroke-width="1.7" />
<line x1="162.80" y1="897.80" x2="169.30" y2="897.80" stroke="#000" stroke-width="1.9" />
<line x1="308.30" y1="897.80" x2="315.30" y2="897.80" stroke="#000" stroke-width="1.7" />
<text x="159.50" y="903.10" font-size="14.5" text-anchor="end" font-family='"Liberation Serif", serif' font-weight="bold" fill="#000" textLength="23.40" lengthAdjust="spacingAndGlyphs">500</text>
<line x1="162.80" y1="914.60" x2="169.30" y2="914.60" stroke="#000" stroke-width="1.9" />
<line x1="308.30" y1="914.60" x2="315.30" y2="914.60" stroke="#000" stroke-width="1.7" />
<line x1="162.80" y1="932.80" x2="169.30" y2="932.80" stroke="#000" stroke-width="1.9" />
<line x1="308.30" y1="932.80" x2="315.30" y2="932.80" stroke="#000" stroke-width="1.7" />
<text x="159.50" y="938.10" font-size="14.5" text-anchor="end" font-family='"Liberation Serif", serif' font-weight="bold" fill="#000" textLength="7.80" lengthAdjust="spacingAndGlyphs">0</text>
<line x1="171.80" y1="932.80" x2="171.80" y2="940.10" stroke="#000" stroke-width="1.7" />
<line x1="199.10" y1="932.80" x2="199.10" y2="940.10" stroke="#000" stroke-width="1.7" />
<line x1="226.40" y1="932.80" x2="226.40" y2="940.10" stroke="#000" stroke-width="1.7" />
<line x1="253.70" y1="932.80" x2="253.70" y2="940.10" stroke="#000" stroke-width="1.7" />
<line x1="281.00" y1="932.80" x2="281.00" y2="940.10" stroke="#000" stroke-width="1.7" />
<line x1="308.30" y1="932.80" x2="308.30" y2="940.10" stroke="#000" stroke-width="1.7" />
<line x1="171.80" y1="787.80" x2="171.80" y2="794.40" stroke="#000" stroke-width="1.7" />
<line x1="199.10" y1="787.80" x2="199.10" y2="794.40" stroke="#000" stroke-width="1.7" />
<line x1="226.40" y1="787.80" x2="226.40" y2="794.40" stroke="#000" stroke-width="1.7" />
<line x1="253.70" y1="787.80" x2="253.70" y2="794.40" stroke="#000" stroke-width="1.7" />
<line x1="281.00" y1="787.80" x2="281.00" y2="794.40" stroke="#000" stroke-width="1.7" />
<line x1="308.30" y1="787.80" x2="308.30" y2="794.40" stroke="#000" stroke-width="1.7" />
<rect x="341.4" y="796.4" width="136.60" height="135.30" fill="none" stroke="#000" stroke-width="2.0"/>
<line x1="332.40" y1="796.40" x2="338.90" y2="796.40" stroke="#000" stroke-width="1.9" />
<line x1="332.40" y1="813.15" x2="338.90" y2="813.15" stroke="#000" stroke-width="1.9" />
<line x1="332.40" y1="829.90" x2="338.90" y2="829.90" stroke="#000" stroke-width="1.9" />
<line x1="332.40" y1="846.65" x2="338.90" y2="846.65" stroke="#000" stroke-width="1.9" />
<line x1="332.40" y1="863.40" x2="338.90" y2="863.40" stroke="#000" stroke-width="1.9" />
<line x1="332.40" y1="880.15" x2="338.90" y2="880.15" stroke="#000" stroke-width="1.9" />
<line x1="332.40" y1="896.90" x2="338.90" y2="896.90" stroke="#000" stroke-width="1.9" />
<line x1="332.40" y1="913.65" x2="338.90" y2="913.65" stroke="#000" stroke-width="1.9" />
<line x1="332.40" y1="931.70" x2="338.90" y2="931.70" stroke="#000" stroke-width="1.9" />
<line x1="341.40" y1="931.70" x2="341.40" y2="939.00" stroke="#000" stroke-width="1.7" />
<line x1="368.72" y1="931.70" x2="368.72" y2="939.00" stroke="#000" stroke-width="1.7" />
<line x1="396.04" y1="931.70" x2="396.04" y2="939.00" stroke="#000" stroke-width="1.7" />
<line x1="423.36" y1="931.70" x2="423.36" y2="939.00" stroke="#000" stroke-width="1.7" />
<line x1="450.68" y1="931.70" x2="450.68" y2="939.00" stroke="#000" stroke-width="1.7" />
<line x1="478.00" y1="931.70" x2="478.00" y2="939.00" stroke="#000" stroke-width="1.7" />
<line x1="341.40" y1="787.20" x2="341.40" y2="793.80" stroke="#000" stroke-width="1.7" />
<line x1="368.72" y1="787.20" x2="368.72" y2="793.80" stroke="#000" stroke-width="1.7" />
<line x1="396.04" y1="787.20" x2="396.04" y2="793.80" stroke="#000" stroke-width="1.7" />
<line x1="423.36" y1="787.20" x2="423.36" y2="793.80" stroke="#000" stroke-width="1.7" />
<line x1="450.68" y1="787.20" x2="450.68" y2="793.80" stroke="#000" stroke-width="1.7" />
<line x1="478.00" y1="787.20" x2="478.00" y2="793.80" stroke="#000" stroke-width="1.7" />
<text x="171.80" y="957.30" font-size="15" text-anchor="middle" font-family='"Liberation Serif", serif' font-weight="bold" fill="#000" textLength="7.80" lengthAdjust="spacingAndGlyphs">0</text>
<text x="199.10" y="957.30" font-size="15" text-anchor="middle" font-family='"Liberation Serif", serif' font-weight="bold" fill="#000" textLength="7.80" lengthAdjust="spacingAndGlyphs">5</text>
<text x="226.40" y="957.30" font-size="15" text-anchor="middle" font-family='"Liberation Serif", serif' font-weight="bold" fill="#000" textLength="15.60" lengthAdjust="spacingAndGlyphs">10</text>
<text x="253.70" y="957.30" font-size="15" text-anchor="middle" font-family='"Liberation Serif", serif' font-weight="bold" fill="#000" textLength="15.60" lengthAdjust="spacingAndGlyphs">15</text>
<text x="281.00" y="957.30" font-size="15" text-anchor="middle" font-family='"Liberation Serif", serif' font-weight="bold" fill="#000" textLength="15.60" lengthAdjust="spacingAndGlyphs">20</text>
<text x="308.30" y="957.30" font-size="15" text-anchor="middle" font-family='"Liberation Serif", serif' font-weight="bold" fill="#000" textLength="15.60" lengthAdjust="spacingAndGlyphs">25</text>
<text x="341.40" y="956.70" font-size="15" text-anchor="middle" font-family='"Liberation Serif", serif' font-weight="bold" fill="#000" textLength="7.80" lengthAdjust="spacingAndGlyphs">0</text>
<text x="368.72" y="956.70" font-size="15" text-anchor="middle" font-family='"Liberation Serif", serif' font-weight="bold" fill="#000" textLength="7.80" lengthAdjust="spacingAndGlyphs">5</text>
<text x="396.04" y="956.70" font-size="15" text-anchor="middle" font-family='"Liberation Serif", serif' font-weight="bold" fill="#000" textLength="15.60" lengthAdjust="spacingAndGlyphs">10</text>
<text x="423.36" y="956.70" font-size="15" text-anchor="middle" font-family='"Liberation Serif", serif' font-weight="bold" fill="#000" textLength="15.60" lengthAdjust="spacingAndGlyphs">15</text>
<text x="450.68" y="956.70" font-size="15" text-anchor="middle" font-family='"Liberation Serif", serif' font-weight="bold" fill="#000" textLength="15.60" lengthAdjust="spacingAndGlyphs">20</text>
<text x="478.00" y="956.70" font-size="15" text-anchor="middle" font-family='"Liberation Serif", serif' font-weight="bold" fill="#000" textLength="15.60" lengthAdjust="spacingAndGlyphs">25</text>
<polyline points="193.60,750.20 209.80,761.40 231.70,762.60 254.30,762.90 276.30,763.00 287.40,762.90" fill="none" stroke="#000" stroke-width="2.0" stroke-linejoin="round" />
<line x1="209.80" y1="762.90" x2="276.30" y2="762.90" stroke="#000" stroke-width="4.4" />
<polyline points="193.60,746.00 209.80,694.80 231.70,738.50 254.30,737.50 276.30,736.30 287.40,752.90" fill="none" stroke="#000" stroke-width="1.8" stroke-linejoin="round" />
<polyline points="193.60,762.40 209.80,762.40 231.70,762.60 254.30,762.60 276.30,763.60 287.40,762.60" fill="none" stroke="#000" stroke-width="2.0" stroke-linejoin="round" />
<circle cx="193.60" cy="750.20" r="4.9" fill="#000"/>
<circle cx="209.80" cy="761.40" r="4.9" fill="#000"/>
<circle cx="231.70" cy="762.60" r="4.9" fill="#000"/>
<circle cx="254.30" cy="762.90" r="4.9" fill="#000"/>
<circle cx="276.30" cy="763.00" r="4.9" fill="#000"/>
<circle cx="287.40" cy="762.90" r="4.9" fill="#000"/>
<polygon points="193.60,740.70 198.70,746.00 193.60,751.30 188.50,746.00" fill="#000"/>
<polygon points="209.80,689.50 214.90,694.80 209.80,700.10 204.70,694.80" fill="#000"/>
<polygon points="231.70,733.20 236.80,738.50 231.70,743.80 226.60,738.50" fill="#000"/>
<polygon points="254.30,732.20 259.40,737.50 254.30,742.80 249.20,737.50" fill="#000"/>
<polygon points="276.30,731.00 281.40,736.30 276.30,741.60 271.20,736.30" fill="#000"/>
<polygon points="287.40,747.60 292.50,752.90 287.40,758.20 282.30,752.90" fill="#000"/>
<rect x="189.70" y="758.50" width="7.8" height="7.8" fill="#fff" stroke="#000" stroke-width="1.7"/>
<rect x="205.90" y="758.50" width="7.8" height="7.8" fill="#fff" stroke="#000" stroke-width="1.7"/>
<rect x="227.80" y="758.70" width="7.8" height="7.8" fill="#fff" stroke="#000" stroke-width="1.7"/>
<rect x="250.40" y="758.70" width="7.8" height="7.8" fill="#fff" stroke="#000" stroke-width="1.7"/>
<rect x="272.40" y="759.70" width="7.8" height="7.8" fill="#fff" stroke="#000" stroke-width="1.7"/>
<rect x="283.50" y="758.70" width="7.8" height="7.8" fill="#fff" stroke="#000" stroke-width="1.7"/>
<polyline points="363.40,763.60 379.50,763.60 401.10,763.60 423.90,763.60 445.70,763.40 457.00,763.80" fill="none" stroke="#000" stroke-width="2.0" stroke-linejoin="round" />
<line x1="379.50" y1="764.60" x2="445.70" y2="764.60" stroke="#000" stroke-width="3.8" />
<polyline points="363.40,726.20 379.50,651.70 401.10,701.50 423.90,669.20 445.70,736.00 457.00,745.40" fill="none" stroke="#000" stroke-width="1.8" stroke-linejoin="round" />
<polyline points="363.40,765.20 379.50,765.20 401.10,765.20 423.90,765.20 445.70,763.60 457.00,765.20" fill="none" stroke="#000" stroke-width="2.0" stroke-linejoin="round" />
<circle cx="363.40" cy="763.60" r="4.9" fill="#000"/>
<circle cx="379.50" cy="763.60" r="4.9" fill="#000"/>
<circle cx="401.10" cy="763.60" r="4.9" fill="#000"/>
<circle cx="423.90" cy="763.60" r="4.9" fill="#000"/>
<circle cx="445.70" cy="763.40" r="4.9" fill="#000"/>
<circle cx="457.00" cy="763.80" r="4.9" fill="#000"/>
<polygon points="363.40,720.90 368.50,726.20 363.40,731.50 358.30,726.20" fill="#000"/>
<polygon points="379.50,646.40 384.60,651.70 379.50,657.00 374.40,651.70" fill="#000"/>
<polygon points="401.10,696.20 406.20,701.50 401.10,706.80 396.00,701.50" fill="#000"/>
<polygon points="423.90,663.90 429.00,669.20 423.90,674.50 418.80,669.20" fill="#000"/>
<polygon points="445.70,730.70 450.80,736.00 445.70,741.30 440.60,736.00" fill="#000"/>
<polygon points="457.00,740.10 462.10,745.40 457.00,750.70 451.90,745.40" fill="#000"/>
<rect x="359.50" y="761.30" width="7.8" height="7.8" fill="#fff" stroke="#000" stroke-width="1.7"/>
<rect x="375.60" y="761.30" width="7.8" height="7.8" fill="#fff" stroke="#000" stroke-width="1.7"/>
<rect x="397.20" y="761.30" width="7.8" height="7.8" fill="#fff" stroke="#000" stroke-width="1.7"/>
<rect x="420.00" y="761.30" width="7.8" height="7.8" fill="#fff" stroke="#000" stroke-width="1.7"/>
<rect x="441.80" y="759.70" width="7.8" height="7.8" fill="#fff" stroke="#000" stroke-width="1.7"/>
<rect x="453.10" y="761.30" width="7.8" height="7.8" fill="#fff" stroke="#000" stroke-width="1.7"/>
<polyline points="193.30,931.40 209.60,931.40 231.80,931.60 254.20,932.40 275.80,932.60 287.20,932.80" fill="none" stroke="#000" stroke-width="2.0" stroke-linejoin="round" />
<line x1="193.30" y1="932.00" x2="275.80" y2="932.00" stroke="#000" stroke-width="3.4" />
<polyline points="193.30,890.20 209.60,828.60 231.80,841.00 254.20,851.40 275.80,913.00 287.20,891.70" fill="none" stroke="#000" stroke-width="1.8" stroke-linejoin="round" />
<polyline points="193.30,932.70 209.60,931.00 231.80,931.00 254.20,932.70 275.80,932.90 287.20,932.90" fill="none" stroke="#000" stroke-width="2.0" stroke-linejoin="round" />
<circle cx="193.30" cy="931.40" r="4.9" fill="#000"/>
<circle cx="209.60" cy="931.40" r="4.9" fill="#000"/>
<circle cx="231.80" cy="931.60" r="4.9" fill="#000"/>
<circle cx="254.20" cy="932.40" r="4.9" fill="#000"/>
<circle cx="275.80" cy="932.60" r="4.9" fill="#000"/>
<circle cx="287.20" cy="932.80" r="4.9" fill="#000"/>
<polygon points="193.30,884.90 198.40,890.20 193.30,895.50 188.20,890.20" fill="#000"/>
<polygon points="209.60,823.30 214.70,828.60 209.60,833.90 204.50,828.60" fill="#000"/>
<polygon points="231.80,835.70 236.90,841.00 231.80,846.30 226.70,841.00" fill="#000"/>
<polygon points="254.20,846.10 259.30,851.40 254.20,856.70 249.10,851.40" fill="#000"/>
<polygon points="275.80,907.70 280.90,913.00 275.80,918.30 270.70,913.00" fill="#000"/>
<polygon points="287.20,886.40 292.30,891.70 287.20,897.00 282.10,891.70" fill="#000"/>
<rect x="189.40" y="928.80" width="7.8" height="7.8" fill="#fff" stroke="#000" stroke-width="1.7"/>
<rect x="205.70" y="927.10" width="7.8" height="7.8" fill="#fff" stroke="#000" stroke-width="1.7"/>
<rect x="227.90" y="927.10" width="7.8" height="7.8" fill="#fff" stroke="#000" stroke-width="1.7"/>
<rect x="250.30" y="928.80" width="7.8" height="7.8" fill="#fff" stroke="#000" stroke-width="1.7"/>
<rect x="271.90" y="929.00" width="7.8" height="7.8" fill="#fff" stroke="#000" stroke-width="1.7"/>
<rect x="283.30" y="929.00" width="7.8" height="7.8" fill="#fff" stroke="#000" stroke-width="1.7"/>
<polyline points="363.70,930.50 380.30,930.50 401.90,930.50 424.20,930.50 446.30,930.50 456.90,930.70" fill="none" stroke="#000" stroke-width="2.0" stroke-linejoin="round" />
<line x1="401.90" y1="931.30" x2="446.30" y2="931.30" stroke="#000" stroke-width="3.6" />
<polyline points="363.70,878.00 380.30,817.80 401.90,867.70 424.20,840.70 446.30,916.10 456.90,916.10" fill="none" stroke="#000" stroke-width="1.8" stroke-linejoin="round" />
<polyline points="363.70,931.90 380.30,931.90 401.90,931.90 424.20,931.90 446.30,931.90 456.90,931.90" fill="none" stroke="#000" stroke-width="2.0" stroke-linejoin="round" />
<circle cx="363.70" cy="930.50" r="4.9" fill="#000"/>
<circle cx="380.30" cy="930.50" r="4.9" fill="#000"/>
<circle cx="401.90" cy="930.50" r="4.9" fill="#000"/>
<circle cx="424.20" cy="930.50" r="4.9" fill="#000"/>
<circle cx="446.30" cy="930.50" r="4.9" fill="#000"/>
<circle cx="456.90" cy="930.70" r="4.9" fill="#000"/>
<polygon points="363.70,872.70 368.80,878.00 363.70,883.30 358.60,878.00" fill="#000"/>
<polygon points="380.30,812.50 385.40,817.80 380.30,823.10 375.20,817.80" fill="#000"/>
<polygon points="401.90,862.40 407.00,867.70 401.90,873.00 396.80,867.70" fill="#000"/>
<polygon points="424.20,835.40 429.30,840.70 424.20,846.00 419.10,840.70" fill="#000"/>
<polygon points="446.30,910.80 451.40,916.10 446.30,921.40 441.20,916.10" fill="#000"/>
<polygon points="456.90,910.80 462.00,916.10 456.90,921.40 451.80,916.10" fill="#000"/>
<rect x="359.80" y="928.00" width="7.8" height="7.8" fill="#fff" stroke="#000" stroke-width="1.7"/>
<rect x="376.40" y="928.00" width="7.8" height="7.8" fill="#fff" stroke="#000" stroke-width="1.7"/>
<rect x="398.00" y="928.00" width="7.8" height="7.8" fill="#fff" stroke="#000" stroke-width="1.7"/>
<rect x="420.30" y="928.00" width="7.8" height="7.8" fill="#fff" stroke="#000" stroke-width="1.7"/>
<rect x="442.40" y="928.00" width="7.8" height="7.8" fill="#fff" stroke="#000" stroke-width="1.7"/>
<rect x="453.00" y="928.00" width="7.8" height="7.8" fill="#fff" stroke="#000" stroke-width="1.7"/>
<text x="239.70" y="991.00" font-size="17.5" text-anchor="start" font-family='"Liberation Serif", serif' font-weight="bold" fill="#000" textLength="161.50" lengthAdjust="spacingAndGlyphs">Days after infection</text>
<rect x="152.7" y="1019.5" width="349.5" height="38.2" fill="none" stroke="#000" stroke-width="2.7"/>
<line x1="164.00" y1="1038.40" x2="218.80" y2="1038.40" stroke="#000" stroke-width="2.0" />
<rect x="187.50" y="1034.50" width="8.0" height="8.0" fill="#fff" stroke="#000" stroke-width="1.7"/>
<text x="235.80" y="1042.30" font-size="16.5" text-anchor="start" font-family='"Liberation Sans", sans-serif' font-weight="bold" fill="#000" textLength="8.80" lengthAdjust="spacingAndGlyphs">ø</text>
<line x1="279.00" y1="1038.50" x2="334.00" y2="1038.50" stroke="#000" stroke-width="2.0" />
<polygon points="305.40,1033.10 310.40,1038.50 305.40,1043.90 300.40,1038.50" fill="#000"/>
<text x="347.00" y="1043.20" font-size="15" text-anchor="start" font-family='"Liberation Serif", serif' font-weight="bold" fill="#000" textLength="31.50" lengthAdjust="spacingAndGlyphs">SEB</text>
<line x1="393.00" y1="1038.50" x2="449.00" y2="1038.50" stroke="#000" stroke-width="2.0" />
<circle cx="420.80" cy="1038.50" r="4.6" fill="#000"/>
<text x="463.30" y="1043.10" font-size="15" text-anchor="start" font-family='"Liberation Serif", serif' font-weight="bold" fill="#000" textLength="30.50" lengthAdjust="spacingAndGlyphs">SEE</text>
</svg>
</body>
</html>
